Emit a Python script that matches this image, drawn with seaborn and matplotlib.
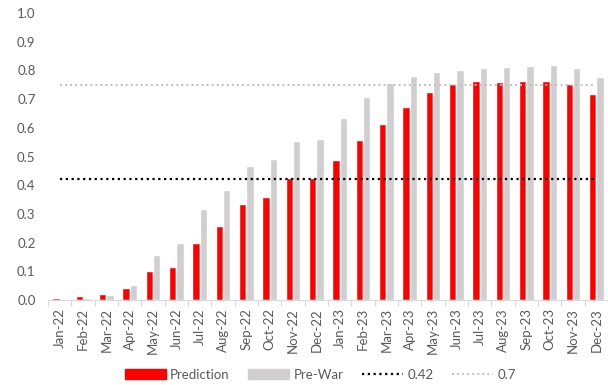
import numpy as np
import pandas as pd
import matplotlib
matplotlib.use("Agg")
import matplotlib.pyplot as plt
import seaborn as sns
from matplotlib.patches import Patch
from matplotlib.lines import Line2D

months = ["Jan-22", "Feb-22", "Mar-22", "Apr-22", "May-22", "Jun-22", "Jul-22", "Aug-22",
          "Sep-22", "Oct-22", "Nov-22", "Dec-22", "Jan-23", "Feb-23", "Mar-23", "Apr-23",
          "May-23", "Jun-23", "Jul-23", "Aug-23", "Sep-23", "Oct-23", "Nov-23", "Dec-23"]
prediction = [0.006, 0.012, 0.019, 0.041, 0.101, 0.115, 0.198, 0.258, 0.334, 0.359, 0.424, 0.424,
              0.487, 0.557, 0.613, 0.672, 0.724, 0.752, 0.762, 0.759, 0.763, 0.764, 0.752, 0.719]
pre_war = [0.003, 0.008, 0.016, 0.051, 0.157, 0.199, 0.317, 0.384, 0.466, 0.491, 0.555, 0.562,
           0.634, 0.707, 0.756, 0.780, 0.795, 0.801, 0.807, 0.813, 0.815, 0.820, 0.809, 0.778]
level_low = 0.42
level_high = 0.75
level_low_label = "0.42"
level_high_label = "0.7"
yticks = [0.0, 0.1, 0.2, 0.3, 0.4, 0.5, 0.6, 0.7, 0.8, 0.9, 1.0]

sns.set_theme(style="white")
plt.rcParams["font.family"] = ["Lato", "DejaVu Sans"]

RED = "#FF0000"
GRAY = "#D0CECE"
TXT = "#595959"
FS = 9.5

df = pd.DataFrame({
    "month": months * 2,
    "series": ["Prediction"] * len(months) + ["Pre-War"] * len(months),
    "value": prediction + pre_war,
})

fig = plt.figure(figsize=(6.08, 3.85), dpi=100)
ax = fig.add_axes([0.079, 0.221, 0.921, 0.745])

sns.barplot(data=df, x="month", y="value", hue="series", order=months,
            hue_order=["Prediction", "Pre-War"],
            palette={"Prediction": RED, "Pre-War": GRAY},
            width=0.62, gap=0, saturation=1, ax=ax, legend=False)

xs = np.arange(len(months))
ax.plot(xs, np.full(len(months), level_low), color="black", lw=1.6,
        linestyle=(0, (1, 1.6)), zorder=5)
ax.plot(xs, np.full(len(months), level_high), color="#BFBFBF", lw=1.4,
        linestyle=(0, (1, 1.6)), zorder=5)

ax.set_xlim(-0.5, len(months) - 0.5)
ax.set_ylim(0, 1.0)
ax.set_yticks(yticks)
ax.set_yticklabels([f"{t:.1f}" for t in yticks])
ax.set_xlabel("")
ax.set_ylabel("")
ax.tick_params(axis="y", length=0, labelsize=FS, labelcolor=TXT, pad=9)
ax.tick_params(axis="x", which="major", length=0, labelsize=FS, labelcolor=TXT,
               rotation=90, pad=6)
ax.set_xticks(np.arange(len(months) + 1) - 0.5, minor=True)
ax.tick_params(axis="x", which="minor", length=4, color="#D9D9D9", width=0.8, bottom=True)

for s in ["top", "right", "left"]:
    ax.spines[s].set_visible(False)
ax.spines["bottom"].set_color("#D9D9D9")
ax.spines["bottom"].set_linewidth(0.8)
ax.grid(False)

handles = [
    Patch(facecolor=RED, edgecolor=RED, label="Prediction"),
    Patch(facecolor=GRAY, edgecolor=GRAY, label="Pre-War"),
    Line2D([], [], color="black", lw=1.6, linestyle=(0, (1, 1.6)), label=level_low_label),
    Line2D([], [], color="#BFBFBF", lw=1.4, linestyle=(0, (1, 1.6)), label=level_high_label),
]
leg = fig.legend(handles=handles, loc="lower center", bbox_to_anchor=(0.527, -0.02),
                 ncol=4, frameon=False, fontsize=FS, handlelength=3.1, handleheight=0.8,
                 columnspacing=1.4, handletextpad=0.35)
for t in leg.get_texts():
    t.set_color(TXT)

fig.savefig("out.png", dpi=100)
